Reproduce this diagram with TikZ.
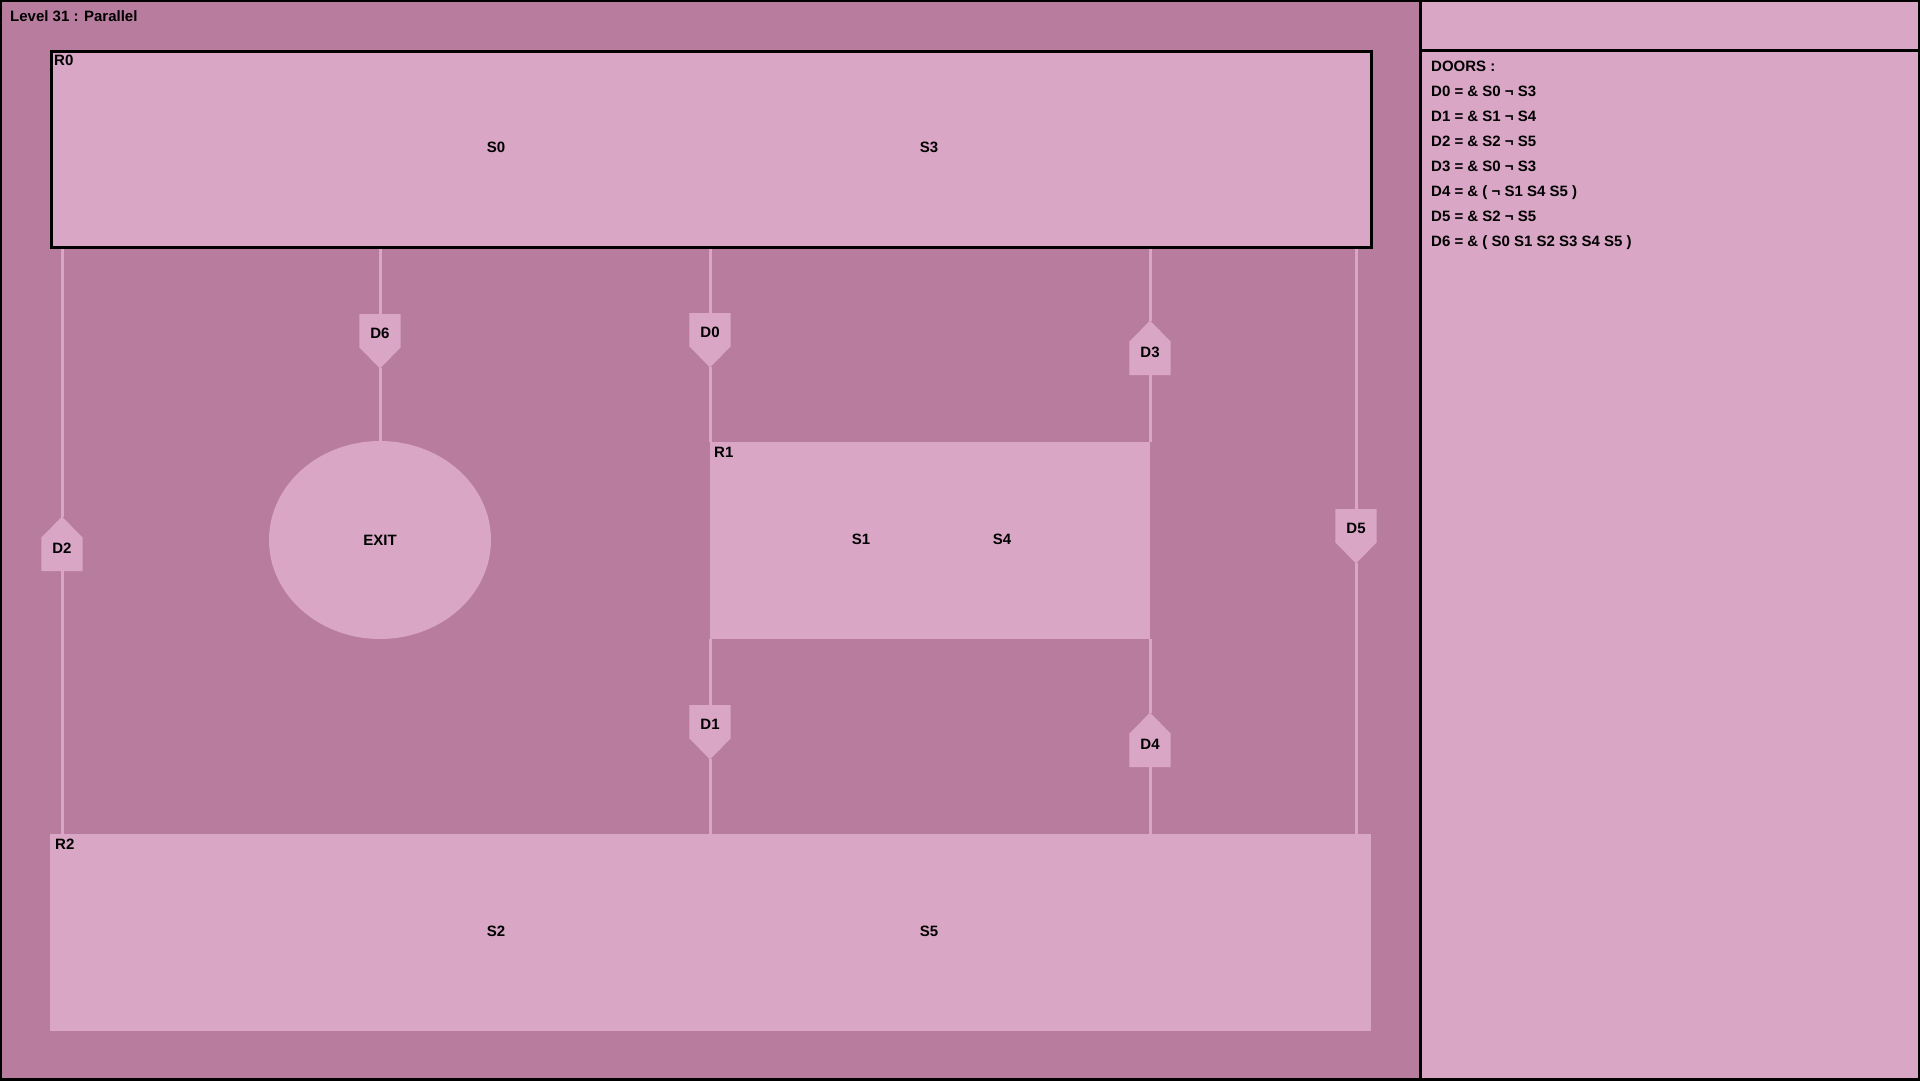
\documentclass[tikz,border=0pt]{standalone}
\usepackage{fontspec}
\setmainfont{Liberation Sans}
\usetikzlibrary{shapes.geometric, backgrounds}
\definecolor{roomdark}{RGB}{184,124,158}
\definecolor{roomlight}{RGB}{217,166,198}

\begin{document}
\begin{tikzpicture}[
  x=1pt, y=-1pt,
  font=\fontsize{15}{17}\selectfont\bfseries,
  room/.style={fill=roomlight, inner sep=0pt, anchor=north west},
  door/.style={inner sep=0pt, minimum width=41pt, minimum height=33pt},
  doordown/.style={door, anchor=north, text height=15pt},
  doorup/.style={door, anchor=south, text depth=12pt},
  link/.style={draw=roomlight, line width=3pt},
  tag/.style={anchor=base west, inner sep=0pt},
  lbl/.style={inner sep=0pt}
]
\useasboundingbox (0,0) rectangle (1920,1080);

\node[room, draw=black, line width=2.5pt, minimum width=1320pt, minimum height=196pt]
  (r0) at (50,50) {};
\node[room, minimum width=440pt, minimum height=197pt]  (r1) at (710,442) {};
\node[room, minimum width=1321pt, minimum height=197pt] (r2) at (50,834) {};
\node[ellipse, fill=roomlight, inner sep=0pt, minimum width=222pt, minimum height=198pt]
  (exit) at (380,540) {EXIT};

\node[doorup]   (d2) at (62,571)   {D2};
\node[doordown] (d6) at (380,314)  {D6};
\node[doordown] (d0) at (710,313)  {D0};
\node[doordown] (d1) at (710,705)  {D1};
\node[doorup]   (d3) at (1150,375) {D3};
\node[doorup]   (d4) at (1150,767) {D4};
\node[doordown] (d5) at (1356,509) {D5};

\begin{scope}[on background layer]
  \fill[roomdark]  (0,0)    rectangle (1420,1080);
  \fill[roomlight] (1420,0) rectangle (1920,1080);
  % door plates with their points
  \foreach \d in {d6,d0,d1,d5} {
    \coordinate (\d-tip) at ([yshift=-21pt]\d.south);
    \fill[roomlight] (\d.north west) -- (\d.north east) -- (\d.south east)
      -- (\d-tip) -- (\d.south west) -- cycle;
  }
  \foreach \d in {d2,d3,d4} {
    \coordinate (\d-tip) at ([yshift=21pt]\d.north);
    \fill[roomlight] (\d.south west) -- (\d.north west) -- (\d-tip)
      -- (\d.north east) -- (\d.south east) -- cycle;
  }
\end{scope}

\draw[link] (d2 |- r0.south) -- (d2-tip) (d2.south) -- (d2 |- r2.north);
\draw[link] (d6 |- r0.south) -- (d6.north) (d6-tip) -- (exit);
\draw[link] (d0 |- r0.south) -- (d0.north) (d0-tip) -- (d0 |- r1.north);
\draw[link] (d1 |- r1.south) -- (d1.north) (d1-tip) -- (d1 |- r2.north);
\draw[link] (d3 |- r0.south) -- (d3-tip) (d3.south) -- (d3 |- r1.north);
\draw[link] (d4 |- r1.south) -- (d4-tip) (d4.south) -- (d4 |- r2.north);
\draw[link] (d5 |- r0.south) -- (d5.north) (d5-tip) -- (d5 |- r2.north);

\node[tag] (r0name) at (54,65)  {R0};
\node[tag] (r1name) at (714,457) {R1};
\node[tag] (r2name) at (55,849) {R2};
\node[lbl] (s0) at (496,147) {S0};
\node[lbl] (s3) at (929,147) {S3};
\node[lbl] (s1) at (861,539) {S1};
\node[lbl] (s4) at (1002,539) {S4};
\node[lbl] (s2) at (496,931) {S2};
\node[lbl] (s5) at (929,931) {S5};

\node[tag] (title) at (10,21) {Level 31 : Parallel};
\node[tag] (doors) at (1431,71) {DOORS :};
\foreach \cond [count=\i from 0] in {{D0 = \& S0 ¬ S3}, {D1 = \& S1 ¬ S4},
    {D2 = \& S2 ¬ S5}, {D3 = \& S0 ¬ S3}, {D4 = \& ( ¬ S1 S4 S5 )},
    {D5 = \& S2 ¬ S5}, {D6 = \& ( S0 S1 S2 S3 S4 S5 )}}
  \node[tag] (def\i) at (1431,{96+25*\i}) {\cond};

\draw[line width=3pt] (1420,0) -- (1420,1080);
\draw[line width=3pt] (1420,50) -- (1920,50);
\draw[line width=4pt] (0,0) rectangle (1920,1080);
\end{tikzpicture}
\end{document}
